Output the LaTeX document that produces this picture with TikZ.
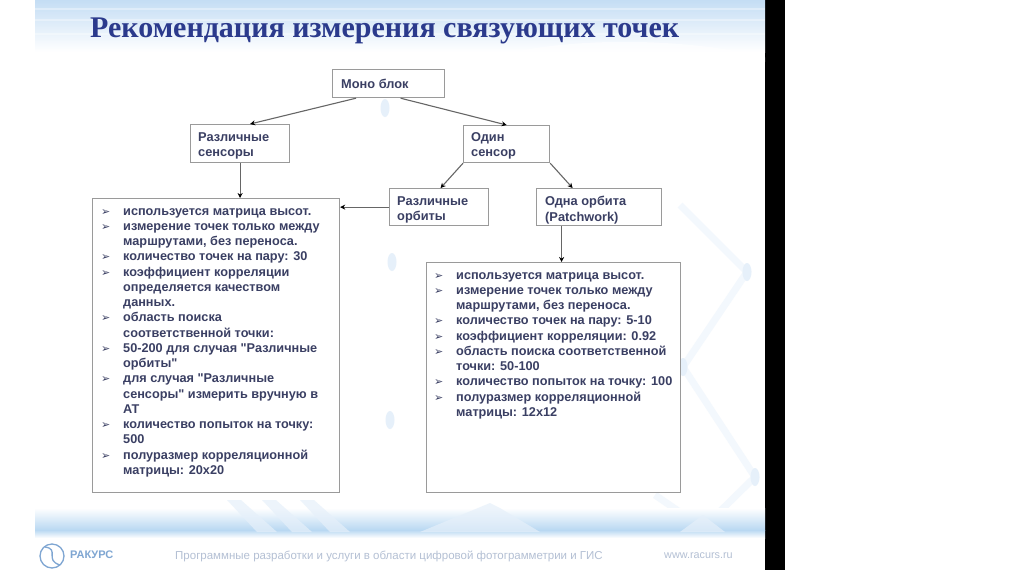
\documentclass[tikz,border=0pt]{standalone}
\usepackage{fontspec}
\setmainfont{Liberation Sans}[Ligatures=TeXOff]
\newfontfamily\titlefont{Liberation Serif}
\newfontfamily\bulfont{DejaVu Sans}
\usetikzlibrary{arrows.meta,positioning}
\definecolor{slideblue}{HTML}{C4DDF4}
\definecolor{bandblue}{HTML}{B9D8F2}
\definecolor{palestreak}{HTML}{F3F8FD}
\definecolor{blobblue}{HTML}{E6F0FA}
\definecolor{titleblue}{HTML}{2B3A8C}
\definecolor{boxline}{HTML}{9A9A9A}
\definecolor{boxtext}{HTML}{3A3F63}
\definecolor{footgray}{HTML}{B4C0D4}
\definecolor{logoblue}{HTML}{7FA6D2}
\newcommand{\blt}{\leavevmode\hbox to 22pt{\smash{\bulfont\fontsize{11}{11}\selectfont ➢}\hss}}
\newcommand{\cnt}{\leavevmode\hspace*{22pt}}
\begin{document}
\begin{tikzpicture}[x=1pt, y=-1pt,
    blockbox/.style={draw=boxline, fill=white, line width=1.2pt, inner sep=0pt, anchor=north west},
    blocktext/.style={text=boxtext, font=\bfseries\fontsize{12.8}{15.2}\selectfont, align=left, inner sep=0pt},
    listtext/.style={text=boxtext, font=\bfseries\fontsize{12.7}{15.25}\selectfont, align=left, inner sep=0pt, anchor=north west},
    link/.style={-{Stealth[black, length=5pt, width=5pt]}, draw=black!60, line width=1.1pt},
    footnote/.style={text=footgray, inner sep=0pt}]

\useasboundingbox (0,0) rectangle (1024,576);

\fill[white] (0,0) rectangle (1024,576);
\fill[black] (765,0) rectangle (785,570);

\begin{scope}
\clip (35,0) rectangle (765,569);
\fill[top color=slideblue, bottom color=white] (35,0) rectangle (765,52);
\foreach \y in {9,20,34}
    \draw[white, line width=1.5pt, opacity=0.35] (35,\y) -- (765,\y);
\draw[white, line width=9pt, opacity=0.6] (470,70) .. controls (540,40) and (680,40) .. (765,62);
\draw[palestreak, line width=7pt] (680,205) -- (747,272) -- (683,367) -- (755,477) -- (703,528) -- (655,495);
\foreach \a/\b in {747/272, 755/477, 385/108, 392/262, 683/367, 390/420}
    \fill[blobblue] (\a,\b) ellipse (4.5 and 9);
\fill[top color=white, bottom color=bandblue] (35,508) rectangle (765,530);
\fill[top color=bandblue, bottom color=white] (35,530) rectangle (765,538);
\foreach \x in {227,262,300}
    \fill[blobblue, opacity=0.7] (\x,500) -- (\x+14,500) -- (\x+50,532) -- (\x+30,532) -- cycle;
\fill[blobblue, opacity=0.7] (420,532) -- (490,503) -- (500,508) -- (540,532) -- cycle;
\fill[blobblue, opacity=0.7] (680,532) -- (703,515) -- (725,532) -- cycle;
\end{scope}

\node[anchor=west, text=titleblue, inner sep=0pt, font=\titlefont\bfseries\fontsize{30}{30}\selectfont] (title) at (90,31) {Рекомендация измерения связующих точек};

\node[blockbox, minimum width=112pt, minimum height=28pt] (mono) at (332,69) {};
\node[blockbox, minimum width=99pt, minimum height=38pt] (sensors) at (190,124) {};
\node[blockbox, minimum width=86pt, minimum height=37pt] (onesensor) at (463,125) {};
\node[blockbox, minimum width=99pt, minimum height=37pt] (orbits) at (389,188) {};
\node[blockbox, minimum width=125pt, minimum height=37pt] (oneorbit) at (536,188) {};
\node[blockbox, minimum width=247pt, minimum height=294pt] (lista) at (92,198) {};
\node[blockbox, minimum width=254pt, minimum height=230pt] (listb) at (426,262) {};

\node[blocktext, anchor=west] (monotext) at ([xshift=9pt]mono.west) {Моно блок};
\node[blocktext, anchor=west] (sensorstext) at ([shift={(8,2)}]sensors.west) {Различные\\сенсоры};
\node[blocktext, anchor=west] (onesensortext) at ([shift={(8,2)}]onesensor.west) {Один\\сенсор};
\node[blocktext, anchor=west] (orbitstext) at ([shift={(8,3)}]orbits.west) {Различные\\орбиты};
\node[blocktext, anchor=west] (oneorbittext) at ([shift={(9,3)}]oneorbit.west) {Одна орбита\\(Patchwork)};

\node[listtext] (listatext) at ([shift={(9,10)}]lista.north west) {%
\blt используется матрица высот.\\
\blt измерение точек только между\\
\cnt маршрутами, без переноса.\\
\blt количество точек на пару: 30\\
\blt коэффициент корреляции\\
\cnt определяется качеством\\
\cnt данных.\\
\blt область поиска\\
\cnt соответственной точки:\\
\blt 50-200 для случая "Различные\\
\cnt орбиты"\\
\blt для случая "Различные\\
\cnt сенсоры" измерить вручную в\\
\cnt АТ\\
\blt количество попыток на точку:\\
\cnt 500\\
\blt полуразмер корреляционной\\
\cnt матрицы: 20x20};

\node[listtext] (listbtext) at ([shift={(8,10)}]listb.north west) {%
\blt используется матрица высот.\\
\blt измерение точек только между\\
\cnt маршрутами, без переноса.\\
\blt количество точек на пару: 5-10\\
\blt коэффициент корреляции: 0.92\\
\blt область поиска соответственной\\
\cnt точки: 50-100\\
\blt количество попыток на точку: 100\\
\blt полуразмер корреляционной\\
\cnt матрицы: 12x12};

\draw[link] ([xshift=24pt]mono.south west) -- ([xshift=10pt]sensors.north);
\draw[link] ([xshift=12pt]mono.south) -- (onesensor.north);
\draw[link] (sensors.south) -- (sensors.south |- lista.north);
\draw[link] (onesensor.south west) -- ([xshift=1.5pt]orbits.north);
\draw[link] (onesensor.south east) -- ([xshift=-26.5pt]oneorbit.north);
\draw[link] (orbits.west) -- (orbits.west -| lista.east);
\draw[link] ([xshift=-37.5pt]oneorbit.south) -- ([xshift=-37.5pt]oneorbit.south |- listb.north);

\draw[logoblue, line width=1.3pt] (52,556) ellipse (12 and 12);
\draw[logoblue, line width=1.3pt] (45,547) .. controls (60,549) and (44,560) .. (60,565);
\node[anchor=west, text=logoblue, inner sep=0pt, font=\bfseries\fontsize{11}{11}\selectfont] (brand) at (70,555) {РАКУРС};
\node[footnote, anchor=west, font=\fontsize{11.5}{11}\selectfont] (slogan) at (175,556) {Программные разработки и услуги в области цифровой фотограмметрии и ГИС};
\node[footnote, anchor=west, font=\fontsize{10.8}{11}\selectfont] (site) at (664,556) {www.racurs.ru};

\end{tikzpicture}
\end{document}
